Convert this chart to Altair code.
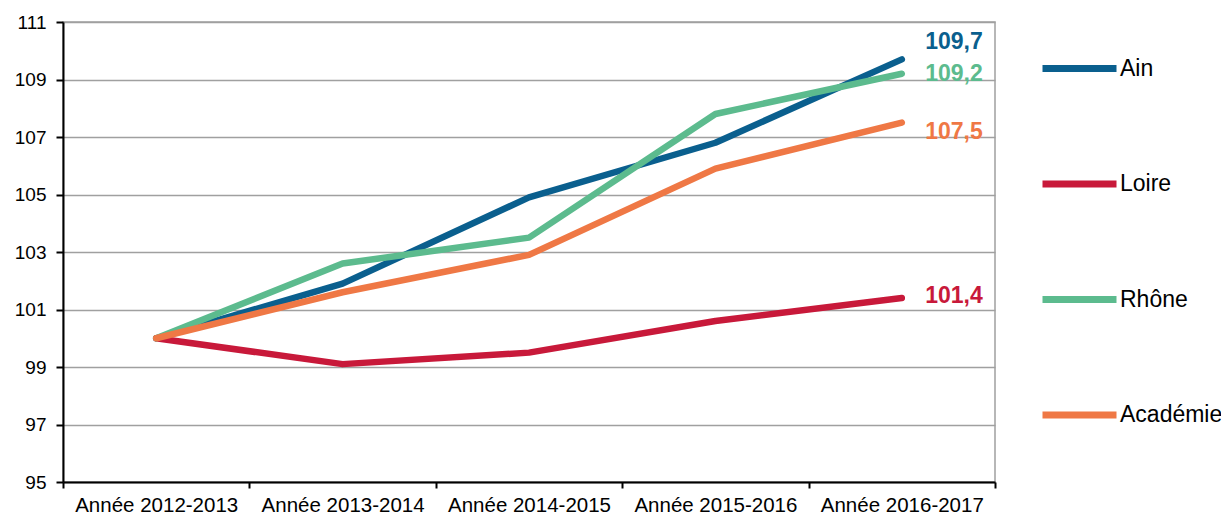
import altair as alt
import pandas as pd

years = ["Année 2012-2013", "Année 2013-2014", "Année 2014-2015", "Année 2015-2016", "Année 2016-2017"]
series = ["Ain", "Loire", "Rhône", "Académie"]
ain = [100, 101.9, 104.9, 106.8, 109.7]
loire = [100, 99.1, 99.5, 100.6, 101.4]
rhone = [100, 102.6, 103.5, 107.8, 109.2]
academie = [100, 101.6, 102.9, 105.9, 107.5]
colors = ["#0A5F8E", "#C8193A", "#5CBB8E", "#EF7845"]
y_ticks = [95, 97, 99, 101, 103, 105, 107, 109, 111]

values = {"Ain": ain, "Loire": loire, "Rhône": rhone, "Académie": academie}
rows = []
for s in series:
    for yr, v in zip(years, values[s]):
        rows.append({"year": yr, "series": s, "value": v,
                     "label": f"{v:.1f}".replace(".", ",")})
df = pd.DataFrame(rows)

FONT = "Liberation Sans"

x_enc = alt.X("year:N", sort=years, title=None,
              scale=alt.Scale(type="band", paddingInner=0, paddingOuter=0),
              axis=alt.Axis(labelAngle=0, labelFontSize=20.5, labelColor="#000000",
                            domainColor="#000000", domainWidth=2,
                            tickColor="#000000", tickWidth=2, tickSize=6,
                            tickBand="extent", labelPadding=7, grid=False))
y_enc = alt.Y("value:Q", title=None,
              scale=alt.Scale(domain=[95, 111], nice=False, zero=False),
              axis=alt.Axis(values=y_ticks, labelFontSize=19, labelColor="#000000",
                            domainColor="#000000", domainWidth=2,
                            tickColor="#000000", tickWidth=2, tickSize=7,
                            labelPadding=10, grid=True, gridColor="#A0A0A0",
                            gridWidth=1.5))
color_enc = alt.Color("series:N", sort=series,
                      scale=alt.Scale(domain=series, range=colors),
                      legend=alt.Legend(title=None, orient="none", legendX=976, legendY=6,
                                        symbolType="stroke", symbolStrokeWidth=7,
                                        symbolSize=5476, labelFontSize=23,
                                        labelColor="#000000", labelOffset=0,
                                        rowPadding=60.5, padding=0, labelFont=FONT))

lines = alt.Chart(df).mark_line(strokeWidth=6.5, strokeCap="round", strokeJoin="round").encode(
    x=x_enc, y=y_enc, color=color_enc, order=alt.Order("year:N"))

dys = {"Ain": -17, "Loire": -2, "Rhône": 0, "Académie": 9}
texts = []
for s in series:
    t = alt.Chart(df).transform_filter(
        (alt.datum.series == s) & (alt.datum.year == years[-1])
    ).mark_text(align="right", baseline="middle", dx=81, dy=dys[s],
                fontSize=23, fontWeight="bold", font=FONT).encode(
        x=alt.X("year:N", sort=years, scale=alt.Scale(type="band", paddingInner=0, paddingOuter=0)),
        y=alt.Y("value:Q"),
        text="label:N",
        color=alt.Color("series:N", scale=alt.Scale(domain=series, range=colors), legend=None))
    texts.append(t)

chart = alt.layer(lines, *texts).properties(
    width=932, height=460,
    autosize=alt.AutoSizeParams(type="none"),
    padding={"left": 55, "top": 14, "right": 226, "bottom": 40},
).configure(font=FONT).configure_view(stroke="#A0A0A0", strokeWidth=1.5)

chart.save("out.html", embed_options={"renderer": "svg", "actions": False})
